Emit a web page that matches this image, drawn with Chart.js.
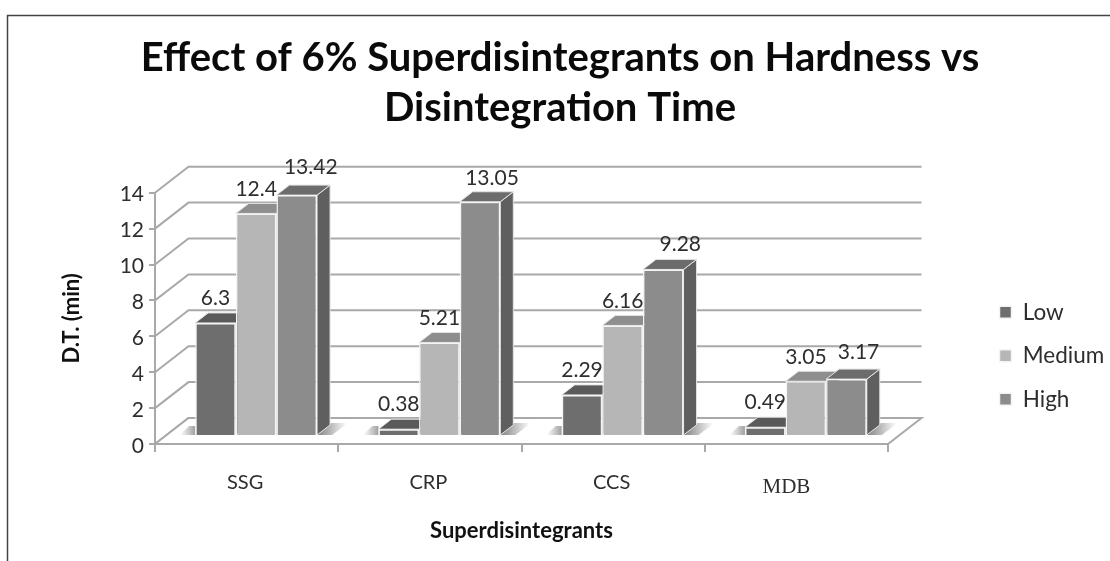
<!DOCTYPE html>
<html>
<head>
<meta charset="utf-8">
<title>Effect of 6% Superdisintegrants</title>
<style>
  html, body { margin: 0; padding: 0; background: #fff; }
  canvas { display: block; }
</style>
<script src="https://cdn.jsdelivr.net/npm/chart.js@4"></script>
</head>
<body>
<canvas id="c" width="1110" height="561"></canvas>
<script>
const categories = ['SSG', 'CRP', 'CCS', 'MDB'];
const seriesNames = ['Low', 'Medium', 'High'];
const lowValues = [6.3, 0.38, 2.29, 0.49];
const mediumValues = [12.4, 5.21, 6.16, 3.05];
const highValues = [13.42, 13.05, 9.28, 3.17];
const yTicks = [0, 2, 4, 6, 8, 10, 12, 14];

const titleLines = ['Effect of 6% Superdisintegrants on Hardness vs', 'Disintegration Time'];
const yTitle = 'D.T. (min)';
const xTitle = 'Superdisintegrants';

const frontColors = ['#6e6e6e', '#b6b6b6', '#8c8c8c'];
const topColors = ['#5a5a5a', '#8e8e8e', '#6c6c6c'];
const sideColors = ['#505050', '#808080', '#5f5f5f'];
const lineColor = '#a9a9a9';
const inkColor = '#2e2e2e';
const uiFont = 'Lato, Carlito, sans-serif';

// Room depth (back wall relative to the axes) and bar depth, in pixels.
const wallDepth = { x: 33.5, y: -26 };
const barDepth = { x: 13, y: -10 };
// Bars stand part-way into the room.
const barInset = { x: 9.5, y: -8 };

// Hand placement of the value captions per series and category.
const captionShiftX = [[0, 0, 0, 0], [0, 0, 0, 0], [14, 12, 17, 12]];
const captionLift = [[25, 25, 25, 25], [24, 24, 24, 24], [28, 24, 25, 27]];
const categoryShiftX = [-1.5, -1.5, -1.5, -10];
const categoryFonts = ['20px ' + uiFont, '20px ' + uiFont, '20px ' + uiFont, '21px "Liberation Serif", serif'];
const categoryY = [483, 483, 483, 487];

function poly(ctx, pts) {
  ctx.beginPath();
  pts.forEach((p, i) => (i ? ctx.lineTo(p[0], p[1]) : ctx.moveTo(p[0], p[1])));
  ctx.closePath();
}

// Back wall, floor, and the frame's two visible edges.
function drawRoom(chart) {
  const { ctx, chartArea: a, scales } = chart;
  const y = scales.y;
  const dx = wallDepth.x, dy = wallDepth.y;
  ctx.save();
  ctx.strokeStyle = '#444';
  ctx.lineWidth = 1.5;
  ctx.beginPath();
  ctx.moveTo(7.5, 561);
  ctx.lineTo(7.5, 15.5);
  ctx.lineTo(1110, 15.5);
  ctx.stroke();

  ctx.strokeStyle = lineColor;
  ctx.lineWidth = 2;
  yTicks.forEach(v => {
    const py = y.getPixelForValue(v);
    ctx.beginPath();
    ctx.moveTo(a.left, py);
    ctx.lineTo(a.left + dx, py + dy);
    ctx.lineTo(a.right + dx, py + dy);
    ctx.stroke();
  });
  const y0 = y.getPixelForValue(0);
  poly(ctx, [[a.left, y0], [a.right, y0], [a.right + dx, y0 + dy], [a.left + dx, y0 + dy]]);
  ctx.fillStyle = '#fff';
  ctx.fill();
  ctx.stroke();
  ctx.restore();
}

// Soft floor shadows on each side of a bar group.
function drawShadows(chart) {
  const { ctx } = chart;
  const first = chart.getDatasetMeta(0).data;
  const last = chart.getDatasetMeta(seriesNames.length - 1).data;
  first.forEach((el, i) => {
    const left = el.x - el.width / 2;
    const right = last[i].x + last[i].width / 2;
    const base = el.base;
    let g = ctx.createLinearGradient(left - 15, 0, left, 0);
    g.addColorStop(0, 'rgba(150,150,150,0)');
    g.addColorStop(1, 'rgba(150,150,150,0.9)');
    poly(ctx, [[left - 16, base], [left, base], [left, base - 9], [left - 6, base - 9]]);
    ctx.fillStyle = g;
    ctx.fill();
    g = ctx.createLinearGradient(right + 2, 0, right + 30, 0);
    g.addColorStop(0, 'rgba(130,130,130,0.95)');
    g.addColorStop(1, 'rgba(130,130,130,0)');
    poly(ctx, [[right, base], [right + 15, base], [right + 31, base - 12], [right + 14, base - 12]]);
    ctx.fillStyle = g;
    ctx.fill();
  });
}

// Top and side faces for every bar; the library paints the front faces afterwards.
function drawBarDepth(chart) {
  const { ctx } = chart;
  const dx = barDepth.x, dy = barDepth.y;
  seriesNames.forEach((_, s) => {
    chart.getDatasetMeta(s).data.forEach(el => {
      const l = el.x - el.width / 2, r = el.x + el.width / 2, t = el.y, b = el.base;
      ctx.strokeStyle = '#e4e4e4';
      ctx.lineWidth = 1;
      poly(ctx, [[r, t], [r + dx, t + dy], [r + dx, b + dy], [r, b]]);
      ctx.fillStyle = sideColors[s];
      ctx.fill();
      ctx.stroke();
      poly(ctx, [[l, t], [r, t], [r + dx, t + dy], [l + dx, t + dy]]);
      ctx.fillStyle = topColors[s];
      ctx.fill();
      ctx.stroke();
    });
  });
}

const bars3d = {
  id: 'bars3d',
  afterLayout(chart) {
    // Title spans the whole frame; legend sits low on the right rather than centred on the plot.
    chart.titleBlock.left = 10;
    chart.titleBlock.right = 1110;
    const lg = chart.legend;
    const pad = lg.options.labels.padding;
    lg.left = 999.5 - pad;
    lg.right = 1110;
    lg.top = 301 - pad;
    lg.bottom = 561;
  },
  beforeDatasetsDraw(chart) {
    const { ctx } = chart;
    drawRoom(chart);
    ctx.save();
    ctx.translate(barInset.x, barInset.y);
    drawShadows(chart);
    drawBarDepth(chart);
  },
  afterDatasetsDraw(chart) {
    const { ctx } = chart;
    ctx.restore();
    ctx.save();
    ctx.fillStyle = inkColor;
    ctx.textAlign = 'center';
    ctx.textBaseline = 'middle';
    ctx.font = '21px ' + uiFont;
    seriesNames.forEach((_, s) => {
      const values = chart.data.datasets[s].data;
      chart.getDatasetMeta(s).data.forEach((el, i) => {
        ctx.fillText(String(values[i]),
          el.x + barInset.x + captionShiftX[s][i],
          el.y + barInset.y - captionLift[s][i]);
      });
    });
    const x = chart.scales.x;
    categories.forEach((name, i) => {
      ctx.font = categoryFonts[i];
      ctx.fillText(name, x.getPixelForValue(i) + categoryShiftX[i], categoryY[i]);
    });
    ctx.restore();
  }
};

new Chart(document.getElementById('c'), {
  type: 'bar',
  data: {
    labels: categories,
    datasets: [lowValues, mediumValues, highValues].map((data, s) => ({
      label: seriesNames[s],
      data,
      backgroundColor: frontColors[s],
      borderColor: '#f4f4f4',
      borderWidth: 1.5,
      categoryPercentage: 0.665,
      barPercentage: 1,
      clip: false
    }))
  },
  plugins: [bars3d],
  options: {
    responsive: false,
    animation: false,
    layout: { autoPadding: false, padding: { left: 10, right: 222, top: 0, bottom: 0 } },
    plugins: {
      tooltip: { enabled: false },
      title: {
        display: true,
        text: titleLines,
        color: '#0a0a0a',
        font: { family: uiFont, size: 40, weight: 'bold', lineHeight: 50 / 40 },
        padding: { top: 33, bottom: 59.7 }
      },
      legend: {
        display: true,
        position: 'chartArea',
        align: 'start',
        labels: {
          boxWidth: 12,
          boxHeight: 12,
          padding: 21,
          color: inkColor,
          font: { family: uiFont, size: 22.5 }
        }
      }
    },
    scales: {
      x: {
        afterFit(s) { s.height = 117; },
        grid: { drawOnChartArea: false, drawTicks: true, tickLength: 8, color: lineColor, lineWidth: 2 },
        border: { color: lineColor, width: 2 },
        ticks: { display: false },
        title: {
          display: true,
          text: xTitle,
          color: '#111',
          font: { family: uiFont, size: 22, weight: 'bold' },
          padding: { top: 0, bottom: 17 }
        }
      },
      y: {
        min: 0,
        max: 14,
        afterFit(s) { s.width = 145; },
        grid: { drawOnChartArea: false, drawTicks: true, tickLength: 6, color: lineColor, lineWidth: 2 },
        border: { color: lineColor, width: 2 },
        ticks: { stepSize: 2, padding: 5, labelOffset: 2, color: inkColor, font: { family: uiFont, size: 21 } },
        title: {
          display: true,
          text: yTitle,
          color: '#111',
          font: { family: uiFont, size: 22, weight: 'bold' },
          padding: { top: 49, bottom: 0 }
        }
      }
    }
  }
});
</script>
</body>
</html>
